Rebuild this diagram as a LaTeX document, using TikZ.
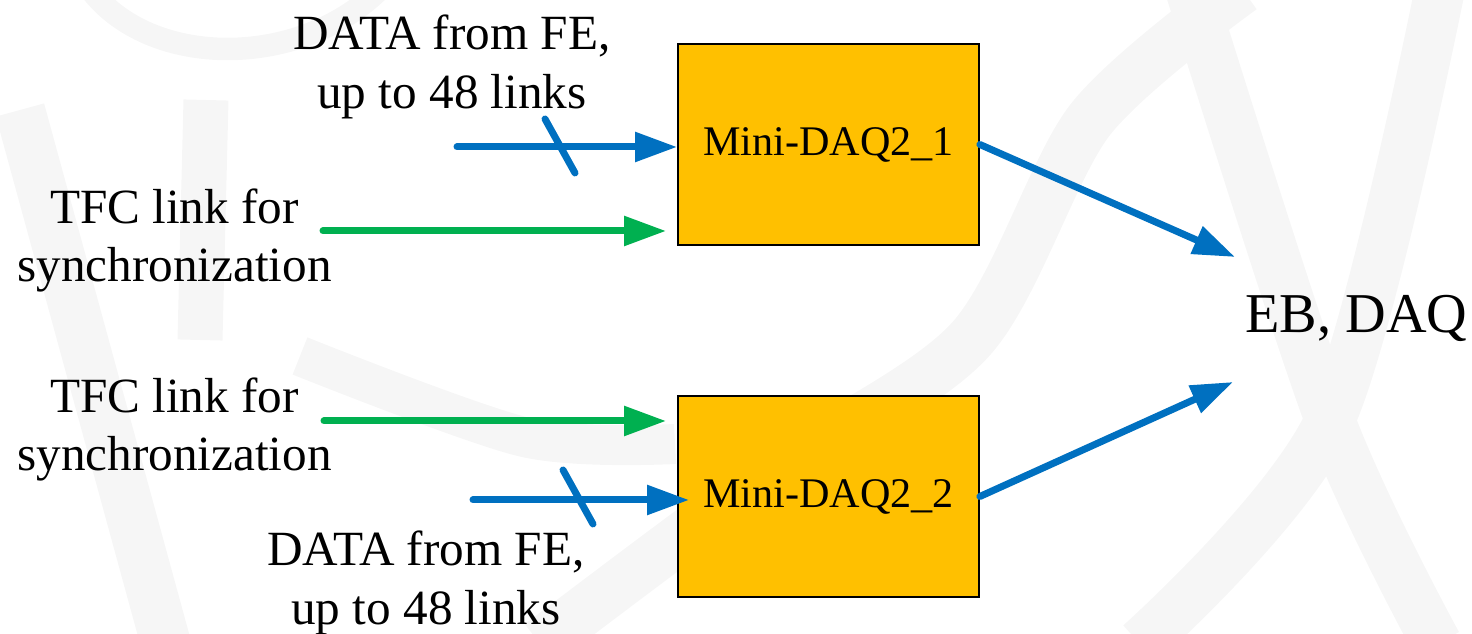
\documentclass[tikz,border=0pt]{standalone}
\usepackage{fontspec}
\IfFontExistsTF{LiberationSerif-Regular.ttf}
	{\setmainfont{LiberationSerif-Regular.ttf}[BoldFont=LiberationSerif-Bold.ttf]}
	{\setmainfont{Liberation Serif}}
\usetikzlibrary{arrows.meta}
\definecolor{datablue}{HTML}{0070C0}
\definecolor{tfcgreen}{HTML}{00B050}
\definecolor{daqorange}{HTML}{FFC000}
\definecolor{wmark}{RGB}{246,246,246}
\begin{document}
\begin{tikzpicture}[
		daqbox/.style={draw=black, line width=1pt, fill=daqorange, minimum width=6.02cm, minimum height=4.02cm, inner sep=0pt, font=\fontsize{24}{28}\selectfont},
		linktext/.style={align=center, inner sep=0pt, font=\fontsize{28}{33.5}\selectfont},
		datalink/.style={draw=datablue, line width=0.14cm, line cap=round, -{Triangle[length=0.84cm, width=0.57cm]}},
		tfclink/.style={draw=tfcgreen, line width=0.14cm, line cap=round, -{Triangle[length=0.84cm, width=0.57cm]}},
		bundle/.style={draw=datablue, line width=0.14cm, line cap=round},
		wband/.style={draw=wmark, line width=1cm}
	]
			\useasboundingbox (0,0) rectangle (29.44,12.68);
			% faint logo in the background
			\begin{scope}
				\clip (0,0) rectangle (29.44,12.68);
				\draw [wmark, line width=0.45cm] (1.8,12.9) .. controls (3.0,11.3) and (6.0,11.3) .. (7.6,12.9);
				\draw [wband] (0.4,10.48) -- (3.32,-0.2);
				\draw [wband, line width=0.9cm] (4.12,10.68) -- (4.0,5.88);
				\draw [wband] plot [smooth] coordinates {(24.84,12.9) (21.8,10.28) (19.4,5.88) (15.2,3.08) (10.8,-0.2)};
				\draw [wband] plot [smooth] coordinates {(23.8,12.9) (26.6,4.28) (28.74,-0.2)};
				\draw [wband] plot [smooth] coordinates {(28.8,12.9) (26.6,4.28) (22.8,-0.2)};
				\draw [wband, line width=0.8cm] plot [smooth] coordinates {(6.0,5.56) (10.48,3.94) (13.5,3.8)};
			\end{scope}
			\node [daqbox] (daq1) at (16.57,9.79) {Mini-DAQ2\_1};
			\node [daqbox] (daq2) at (16.57,2.75) {Mini-DAQ2\_2};
			\node [linktext] (fe1) at (9.04,11.35) {DATA from FE,\\up to 48 links};
			\node [linktext] (tfc1) at (3.49,7.87) {TFC link for\\synchronization};
			\node [linktext] (tfc2) at (3.49,4.09) {TFC link for\\synchronization};
			\node [linktext] (fe2) at (8.52,1.03) {DATA from FE,\\up to 48 links};
			\node [anchor=base, inner sep=0pt, font=\fontsize{32}{38}\selectfont] (ebdaq) at (27.13,6.02) {EB, DAQ};
			\coordinate (fe1in) at (9.14,9.74);
			\coordinate (tfc1in) at (6.46,8.06);
			\coordinate (tfc2in) at (6.48,4.26);
			\coordinate (fe2in) at (9.46,2.68);
			\coordinate (eb1) at (24.7,7.54);
			\coordinate (eb2) at (24.66,5.04);
			% inputs
			\draw [datalink] (fe1in) -- (fe1in -| daq1.west);
			\draw [bundle] (10.9,10.3) -- (11.5,9.22);
			\draw [tfclink, shorten >=0.22cm] (tfc1in) -- (tfc1in -| daq1.west);
			\draw [tfclink, shorten >=0.22cm] (tfc2in) -- (tfc2in -| daq2.west);
			\draw [datalink, shorten >=-0.24cm] (fe2in) -- (fe2in -| daq2.west);
			\draw [bundle] (11.26,3.28) -- (11.86,2.2);
			% outputs
			\draw [datalink] (daq1.east) -- (eb1);
			\draw [datalink] (daq2.east) -- (eb2);
		\end{tikzpicture}
\end{document}
